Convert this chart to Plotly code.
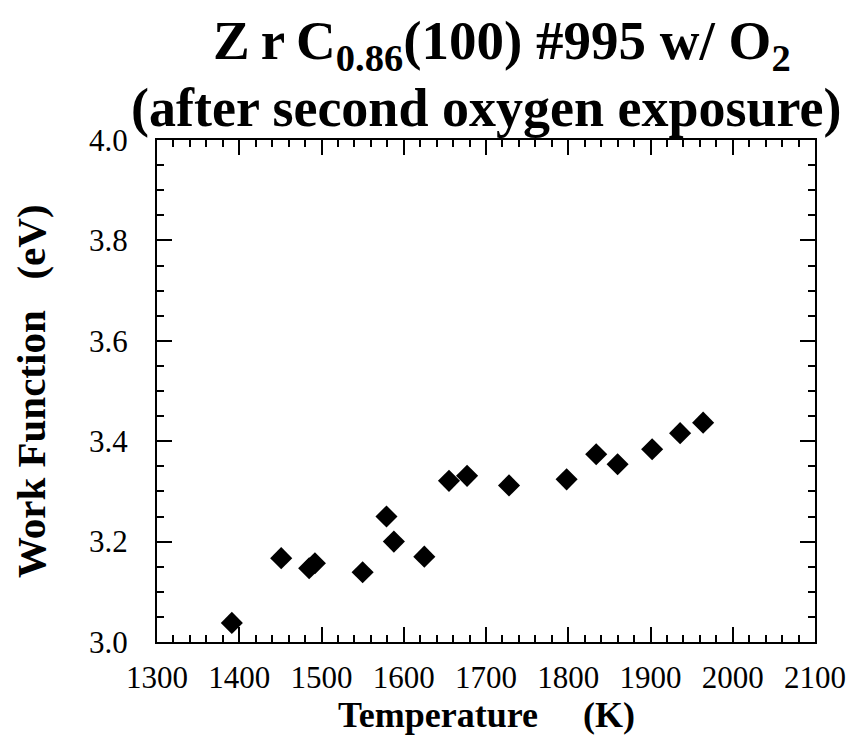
import plotly.graph_objects as go

temperature = [1391, 1451, 1485, 1492, 1550, 1579, 1588, 1625, 1655, 1677,
               1728, 1798, 1834, 1860, 1902, 1936, 1964]
work_function = [3.038, 3.167, 3.147, 3.157, 3.139, 3.250, 3.200, 3.170, 3.321, 3.331,
                 3.312, 3.324, 3.374, 3.354, 3.384, 3.416, 3.437]

x_ticks = [1300, 1400, 1500, 1600, 1700, 1800, 1900, 2000, 2100]
y_ticks = [3.0, 3.2, 3.4, 3.6, 3.8, 4.0]

FONT = "Liberation Serif"

fig = go.Figure()
fig.add_trace(go.Scatter(
    x=temperature, y=work_function, mode="markers",
    marker=dict(symbol="diamond", size=17, color="black", line=dict(width=0)),
    showlegend=False,
))

axis_common = dict(
    showgrid=False, zeroline=False, showline=True, linecolor="black", linewidth=2,
    mirror="ticks", ticks="inside", tickcolor="black", tickwidth=2,
    tickfont=dict(family=FONT, size=31, color="black"), automargin=False,
)

fig.update_xaxes(
    range=[1300, 2100], tickvals=x_ticks, ticktext=[str(v) for v in x_ticks],
    ticklen=15, ticklabelstandoff=7,
    minor=dict(dtick=20, ticklen=7, ticks="inside", tickcolor="black", tickwidth=2),
    **axis_common,
)
fig.update_yaxes(
    range=[3.0, 4.0], tickvals=y_ticks, ticktext=[f"{v:.1f}" for v in y_ticks],
    ticklen=15, ticklabelstandoff=21,
    minor=dict(dtick=0.05, ticklen=7, ticks="inside", tickcolor="black", tickwidth=2),
    **axis_common,
)

# axis titles
fig.add_annotation(
    text="<b>Temperature     (K)</b>", xref="paper", yref="paper", x=0.5, y=0,
    yshift=-73, xanchor="center", yanchor="middle", showarrow=False,
    font=dict(family=FONT, size=36, color="black"),
)
fig.add_annotation(
    text="<b>Work Function   (eV)</b>", xref="paper", yref="paper", x=0, y=0.5,
    xshift=-126, xanchor="center", yanchor="middle", textangle=-90, showarrow=False,
    font=dict(family=FONT, size=41, color="black"),
)

# titles
fig.add_annotation(
    text="<b>Z\u2009r\u2009C<sub>0.86</sub>(100) #995 w/ O<sub>2</sub></b>",
    xref="paper", yref="paper", x=0.5, y=1.0, xshift=16, yshift=132,
    xanchor="center", yanchor="top",
    showarrow=False, font=dict(family=FONT, size=55, color="black"),
)
fig.add_annotation(
    text="<b>(after second oxygen exposure)</b>",
    xref="paper", yref="paper", x=0.5, y=1.0, yshift=32, xanchor="center", yanchor="middle",
    showarrow=False, font=dict(family=FONT, size=54, color="black"),
)

# page body keeps an 8 px margin, so the figure is sized to fit inside it
fig.update_layout(
    width=846, height=728,
    margin=dict(l=149, r=39, t=132, b=94),
    paper_bgcolor="white", plot_bgcolor="white",
)

fig.write_html("out.html")
